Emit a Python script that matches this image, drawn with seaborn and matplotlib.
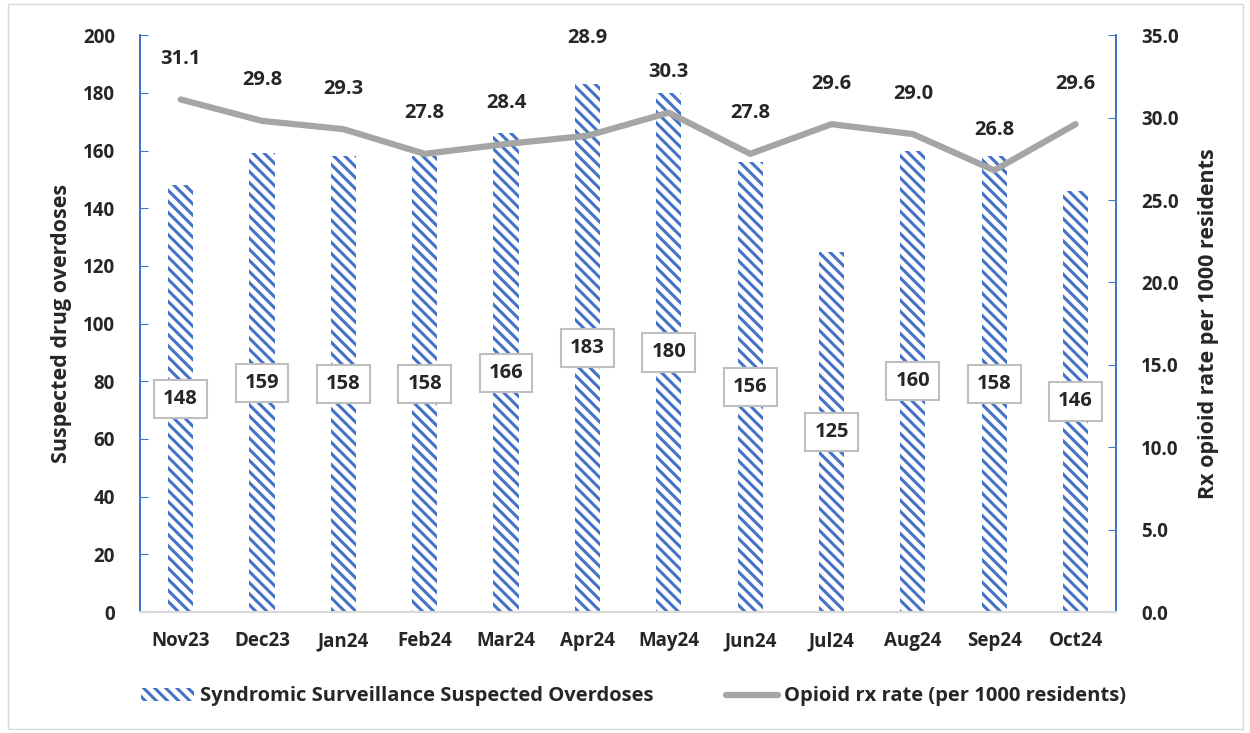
import pandas as pd
import numpy as np
import matplotlib
matplotlib.use('Agg')
import matplotlib.pyplot as plt
import seaborn as sns
from matplotlib.patches import Patch, Rectangle
from matplotlib.lines import Line2D

months = ['Nov23', 'Dec23', 'Jan24', 'Feb24', 'Mar24', 'Apr24', 'May24',
          'Jun24', 'Jul24', 'Aug24', 'Sep24', 'Oct24']
overdoses = [148, 159, 158, 158, 166, 183, 180, 156, 125, 160, 158, 146]
rx_rate = [31.1, 29.8, 29.3, 27.8, 28.4, 28.9, 30.3, 27.8, 29.6, 29.0, 26.8, 29.6]

df = pd.DataFrame({'month': months, 'overdoses': overdoses, 'rx': rx_rate})

sns.set_style('white')
plt.rcParams['font.family'] = ['Open Sans', 'DejaVu Sans']
plt.rcParams['font.weight'] = 'bold'
plt.rcParams['hatch.linewidth'] = 2.2

blue = '#4472C4'
grey = '#A5A5A5'
HATCH = '\\\\\\'

fig = plt.figure(figsize=(12.5, 7.33), dpi=100)
fig.add_artist(Rectangle((0.006, 0.006), 0.988, 0.988, transform=fig.transFigure,
                         fill=False, edgecolor='#D9D9D9', linewidth=1))
ax = fig.add_axes([0.112, 0.165, 0.781, 0.787])

sns.barplot(data=df, x='month', y='overdoses', ax=ax, color='white',
            width=0.31, edgecolor=blue, linewidth=0)
for p in ax.patches:
    p.set_hatch(HATCH)
    p.set_edgecolor(blue)
    p.set_linewidth(0)

ax.set_ylim(0, 200)
ax.set_yticks(range(0, 201, 20))
ax.set_xlim(-0.5, 11.5)
ax.set_xlabel('')
ax.set_ylabel('Suspected drug overdoses', fontsize=15.5, fontweight='bold', labelpad=8)

for i, v in enumerate(overdoses):
    ax.text(i, v / 2, str(v), ha='center', va='center', fontsize=14.5, fontweight='bold',
            bbox=dict(boxstyle='square,pad=0.45', facecolor='white', edgecolor='#BFBFBF', linewidth=1.5))

ax2 = ax.twinx()
sns.lineplot(data=df, x='month', y='rx', ax=ax2, color=grey, linewidth=4.5,
             sort=False, legend=False)
ax2.set_ylim(0, 35)
ax2.set_yticks(np.arange(0, 35.1, 5))
ax2.set_yticklabels([f'{t:.1f}' for t in np.arange(0, 35.1, 5)])
ax2.set_ylabel('Rx opioid rate per 1000 residents', fontsize=15.5, fontweight='bold', labelpad=14)
ax2.set_xlim(-0.5, 11.5)

# Apr24 label sits above the bar in the original
label_off = [1.85] * 12
label_off[5] = 5.3
for i, v in enumerate(rx_rate):
    ax2.text(i, v + label_off[i], f'{v:.1f}', ha='center', va='bottom', fontsize=14.5, fontweight='bold')

for a in (ax, ax2):
    a.spines['top'].set_visible(False)
    a.spines['left'].set_color(blue)
    a.spines['right'].set_color(blue)
    a.spines['bottom'].set_color('#D9D9D9')
    a.spines['left'].set_linewidth(1.3)
    a.spines['right'].set_linewidth(1.3)
    a.spines['bottom'].set_linewidth(1.5)

ax.tick_params(axis='y', direction='in', length=6, color=blue, labelsize=13.5, pad=18)
ax2.tick_params(axis='y', direction='in', length=6, color=blue, labelsize=13.5, pad=18)
ax.tick_params(axis='x', length=0, labelsize=13.5, pad=14)
for lab in ax.get_xticklabels() + ax.get_yticklabels() + ax2.get_yticklabels():
    lab.set_fontweight('bold')

handles = [Patch(facecolor='white', edgecolor=blue, linewidth=0, hatch=HATCH),
           Line2D([0], [0], color=grey, linewidth=4.5)]
labels = ['Syndromic Surveillance Suspected Overdoses', 'Opioid rx rate (per 1000 residents)']
fig.legend(handles, labels, loc='center', bbox_to_anchor=(0.507, 0.05), ncol=2,
           frameon=False, handlelength=2.6, handleheight=0.6, handletextpad=0.3,
           columnspacing=3.6, prop={'weight': 'bold', 'size': 14.5})

fig.savefig('out.png', dpi=100)
